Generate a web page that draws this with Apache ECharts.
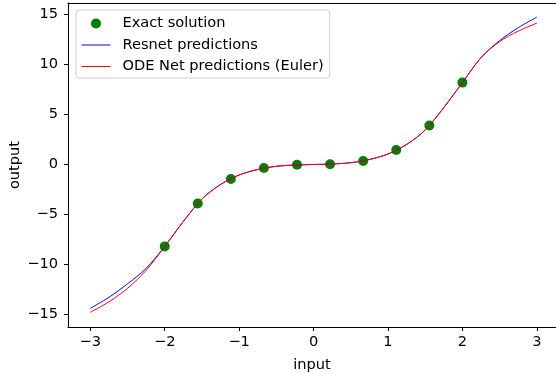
<!DOCTYPE html>
<html>
<head>
<meta charset="utf-8">
<script src="https://cdn.jsdelivr.net/npm/echarts@6/dist/echarts.min.js"></script>
<style>
  html, body { margin: 0; padding: 0; background: #fff; }
  #chart { width: 556px; height: 373px; }
</style>
</head>
<body>
<div id="chart"></div>
<script>
// exact solution samples
let exactX = [-2, -1.556, -1.111, -0.667, -0.222, 0.222, 0.667, 1.111, 1.556, 2];
let exactY = [-8.2, -3.9, -1.45, -0.35, -0.03, 0.03, 0.35, 1.45, 3.9, 8.2];

// prediction curves
let gridX = [-3, -2.75, -2.5, -2.25, -2, -1.75, -1.5, -1.25, -1, -0.75, -0.5, -0.25, 0,
             0.25, 0.5, 0.75, 1, 1.25, 1.5, 1.75, 2, 2.25, 2.5, 2.75, 3];
let resnetY = [-14.4, -13.3, -11.95, -10.4, -8.2, -5.7, -3.45, -2.0, -1.05, -0.5, -0.18, -0.05, 0,
               0.05, 0.18, 0.5, 1.05, 2.0, 3.45, 5.7, 8.2, 10.7, 12.4, 13.7, 14.75];
let odeY = [-14.8, -13.75, -12.4, -10.6, -8.2, -5.7, -3.45, -2.0, -1.05, -0.5, -0.18, -0.05, 0,
            0.05, 0.18, 0.5, 1.05, 2.0, 3.45, 5.7, 8.2, 10.7, 12.3, 13.35, 14.15];

let xTicks = [-3, -2, -1, 0, 1, 2, 3];
let yTicks = [-15, -10, -5, 0, 5, 10, 15];

function pairs(xs, ys) {
    let out = [];
    for (let i = 0; i < xs.length; i++) out.push([xs[i], ys[i]]);
    return out;
}

function minus(v) {
    return String(v).replace('-', '\u2212');
}

let font = 'DejaVu Sans';
let xMin = -3.3, xMax = 3.258;
let yMin = -16.27, yMax = 16.17;

let option = {
    animation: false,
    textStyle: { fontFamily: font },
    grid: { left: 68, top: 3, right: 0, bottom: 46, outerBoundsMode: 'none', containLabel: false },
    legend: {
        left: 76, top: 10,
        orient: 'vertical',
        backgroundColor: 'rgba(255,255,255,0.8)',
        borderColor: '#cccccc',
        borderWidth: 1,
        borderRadius: 3,
        padding: [6, 6, 4, 5],
        itemWidth: 29,
        itemHeight: 10,
        itemGap: 6.5,
        textStyle: { fontFamily: font, fontSize: 14.6, color: '#000', padding: [0, 0, 0, 7] },
        data: [
            { name: 'Exact solution', icon: 'circle' },
            { name: 'Resnet predictions', itemStyle: { opacity: 0 }, lineStyle: { width: 1 } },
            { name: 'ODE Net predictions (Euler)', itemStyle: { opacity: 0 }, lineStyle: { width: 1 } }
        ]
    },
    xAxis: [
        {
            type: 'value',
            min: xMin, max: xMax,
            name: 'input',
            nameLocation: 'middle',
            nameGap: 31,
            nameMoveOverlap: false,
            nameTextStyle: { fontFamily: font, fontSize: 14.6, color: '#000' },
            axisLine: { onZero: false, lineStyle: { color: '#000', width: 1 } },
            axisTick: { show: true, length: 4, customValues: xTicks, lineStyle: { color: '#000' } },
            axisLabel: { customValues: xTicks, margin: 8, fontSize: 14.6, color: '#000', fontFamily: font, formatter: minus },
            splitLine: { show: false }
        },
        {
            // top spine only
            type: 'value',
            position: 'top',
            min: xMin, max: xMax,
            axisLine: { onZero: false, lineStyle: { color: '#000', width: 1 } },
            axisTick: { show: false },
            axisLabel: { show: false },
            splitLine: { show: false }
        }
    ],
    yAxis: {
        type: 'value',
        min: yMin, max: yMax,
        name: 'output',
        nameLocation: 'middle',
        nameGap: 45,
        nameMoveOverlap: false,
        nameTextStyle: { fontFamily: font, fontSize: 14.6, color: '#000' },
        axisLine: { show: true, onZero: false, lineStyle: { color: '#000', width: 1 } },
        axisTick: { show: true, length: 4, customValues: yTicks, lineStyle: { color: '#000' } },
        axisLabel: { customValues: yTicks, margin: 10, fontSize: 14.6, color: '#000', fontFamily: font, formatter: minus },
        splitLine: { show: false }
    },
    series: [
        {
            name: 'Exact solution',
            type: 'scatter',
            symbolSize: 10,
            itemStyle: { color: '#008000', opacity: 1 },
            data: pairs(exactX, exactY)
        },
        {
            name: 'Resnet predictions',
            type: 'line',
            smooth: 0.3,
            symbol: 'none',
            lineStyle: { color: '#0000ff', width: 1 },
            itemStyle: { color: '#0000ff' },
            data: pairs(gridX, resnetY)
        },
        {
            name: 'ODE Net predictions (Euler)',
            type: 'line',
            smooth: 0.3,
            symbol: 'none',
            lineStyle: { color: '#ff0000', width: 1 },
            itemStyle: { color: '#ff0000' },
            data: pairs(gridX, odeY)
        }
    ]
};

let chart = echarts.init(document.getElementById('chart'), null, { renderer: 'canvas' });
chart.setOption(option);
</script>
</body>
</html>
